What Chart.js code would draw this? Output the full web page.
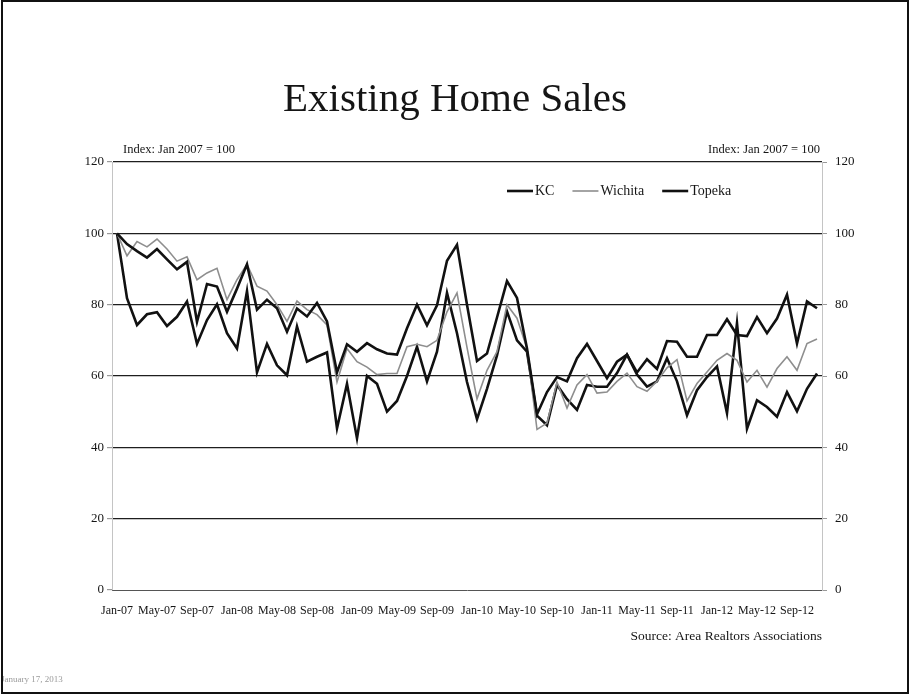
<!DOCTYPE html>
<html>
<head>
<meta charset="utf-8">
<title>Existing Home Sales</title>
<script src="https://cdn.jsdelivr.net/npm/chart.js@4.4.1/dist/chart.umd.min.js"></script>
<style>
    html, body { margin: 0; padding: 0; background: #ffffff; }
    #wrap { position: relative; width: 911px; height: 696px; }
</style>
</head>
<body>
<div id="wrap"><canvas id="chart" width="911" height="696"></canvas></div>
<script>
/* ---- data (index, Jan 2007 = 100) ---- */

var MONTHS = ['Jan', 'Feb', 'Mar', 'Apr', 'May', 'Jun', 'Jul', 'Aug', 'Sep', 'Oct', 'Nov', 'Dec'];
var YEARS  = ['07', '08', '09', '10', '11', '12'];

var KC = [
    100, 97, 95, 93.2, 95.6, 92.7, 89.9, 92, 75.2, 85.8, 85.1, 78,
    84.5, 91.3, 78.6, 81.4, 79, 72.4, 78.9, 76.7, 80.5, 75.3, 61, 68.9,
    66.8, 69.2, 67.5, 66.3, 66, 73.4, 80, 74.2, 79.8, 92.3, 96.8, 80,
    64.2, 66.3, 76.4, 86.6, 81.9, 67.7, 49.3, 55.5, 59.7, 58.5, 65, 69,
    64.2, 59.4, 64, 66, 61, 64.7, 62, 69.8, 69.6, 65.4, 65.4, 71.5,
    71.5, 75.9, 71.5, 71.2, 76.5, 72, 76.1, 82.8, 69.1, 80.9, 79
];

var WICHITA = [
    100, 93.7, 97.7, 96.2, 98.4, 95.6, 92.2, 93.4, 87, 88.9, 90.2, 81.4,
    87, 91.3, 85.2, 83.8, 80, 75.3, 81, 78.6, 77.2, 74.3, 58.3, 67.7,
    64, 62.5, 60.4, 60.7, 60.7, 68.2, 68.9, 68.2, 70, 78, 83.3, 68,
    53.6, 61.6, 66.8, 80, 76.2, 67.7, 45, 46.8, 58.3, 51, 57.5, 60.4,
    55.2, 55.5, 58.5, 60.8, 57, 55.7, 58.5, 62.3, 64.6, 53, 57.9, 61.1,
    64.4, 66.3, 64.4, 58.3, 61.6, 56.9, 62.1, 65.4, 61.6, 69.1, 70.4
];

var TOPEKA = [
    100, 81.8, 74.3, 77.3, 77.9, 74, 76.6, 80.9, 69, 75.7, 80.1, 72,
    67.7, 83.8, 61, 69, 63, 60.2, 73.9, 64, 65.4, 66.6, 45.3, 57.8,
    42.5, 60, 57.8, 50, 53, 60, 68.2, 58.5, 66.8, 83.3, 72, 58.3,
    47.9, 56.4, 65.8, 78.1, 70, 66.8, 48.9, 46.2, 57.5, 53.5, 50.5, 57.5,
    57, 57, 60.8, 66, 60.4, 57, 58.5, 65, 58.5, 49, 56, 59.7,
    62.7, 49.6, 74.8, 45.2, 53.2, 51.3, 48.6, 55.5, 50.1, 56.4, 60.7
];

var SERIES_NAMES = ['KC', 'Wichita', 'Topeka'];
var Y_MIN = 0, Y_MAX = 120, Y_STEP = 20;

var labels = [];
YEARS.forEach(function (y) {
    MONTHS.forEach(function (m) { labels.push(m + '-' + y); });
});
labels = labels.slice(0, KC.length);

/* ---- look ---- */

var SERIF = "'Liberation Serif', 'Times New Roman', serif";
var INK   = '#151515';

Chart.defaults.font.family = SERIF;
Chart.defaults.color = INK;

// legend inside the plot, plus the slide texts and frame
var slideText = {
    id: 'slideText',
    afterDraw: function (chart) {
        var ctx  = chart.ctx;
        var area = chart.chartArea;
        ctx.save();

        ctx.fillStyle = INK;
        ctx.textAlign = 'center';
        ctx.textBaseline = 'alphabetic';
        ctx.font = '41px ' + SERIF;
        ctx.fillText('Existing Home Sales', 455, 111);

        ctx.font = '12.5px ' + SERIF;
        ctx.textBaseline = 'middle';
        ctx.textAlign = 'left';
        ctx.fillText('Index: Jan 2007 = 100', 123, 150);
        ctx.textAlign = 'right';
        ctx.fillText('Index: Jan 2007 = 100', area.right - 2, 150);

        ctx.font = '13.5px ' + SERIF;
        ctx.fillText('Source: Area Realtors Associations', area.right, 636);

        // legend
        var x = 507, y = 191;
        ctx.font = '14px ' + SERIF;
        ctx.textAlign = 'left';
        chart.data.datasets.forEach(function (ds) {
            ctx.strokeStyle = ds.borderColor;
            ctx.lineWidth = ds.borderWidth;
            ctx.beginPath();
            ctx.moveTo(x, y);
            ctx.lineTo(x + 26, y);
            ctx.stroke();
            ctx.fillStyle = INK;
            ctx.fillText(ds.label, x + 28, y);
            x += 28 + ctx.measureText(ds.label).width + 18;
        });

        ctx.fillStyle = '#9a9a9a';
        ctx.font = '9px ' + SERIF;
        ctx.fillText('January 17, 2013', 1, 680);

        ctx.strokeStyle = '#111';
        ctx.lineWidth = 2;
        ctx.strokeRect(2, 1, 906, 692);
        ctx.restore();
    }
};

var line = function (name, data, color, width) {
    return {
        label: name,
        data: data,
        borderColor: color,
        backgroundColor: color,
        borderWidth: width,
        pointRadius: 0,
        tension: 0,
        fill: false
    };
};

new Chart(document.getElementById('chart').getContext('2d'), {
    type: 'line',
    data: {
        labels: labels,
        datasets: [
            line(SERIES_NAMES[0], KC, '#111111', 2.6),
            line(SERIES_NAMES[1], WICHITA, '#8e8e8e', 1.6),
            line(SERIES_NAMES[2], TOPEKA, '#111111', 2.6)
        ]
    },
    options: {
        responsive: false,
        animation: false,
        devicePixelRatio: 1,
        layout: { padding: { top: 162, left: 0, right: 0, bottom: 0 } },
        plugins: {
            legend: { display: false },
            title:  { display: false },
            tooltip: { enabled: false }
        },
        scales: {
            x: {
                type: 'category',
                offset: true,
                grid: { display: false },
                border: { color: '#555555', width: 1 },
                ticks: {
                    autoSkip: false,
                    maxRotation: 0,
                    padding: 6,
                    font: { size: 12 },
                    callback: function (v, i) {
                        return i % 4 === 0 ? this.getLabelForValue(v) : '';
                    }
                },
                afterFit: function (s) { s.height = 106; }
            },
            y: {
                position: 'left',
                min: Y_MIN,
                max: Y_MAX,
                ticks: { stepSize: Y_STEP, padding: 3, font: { size: 13 } },
                grid: {
                    color: function (c) { return c.tick.value === 0 ? 'rgba(0,0,0,0)' : '#1e1e1e'; },
                    tickColor: '#999999',
                    tickLength: 5,
                    lineWidth: 1.2
                },
                border: { color: '#c4c4c4' },
                afterFit: function (s) { s.width = 112; }
            },
            y2: {
                position: 'right',
                min: Y_MIN,
                max: Y_MAX,
                ticks: { stepSize: Y_STEP, padding: 8, font: { size: 13 } },
                grid: { drawOnChartArea: false, tickColor: '#999999', tickLength: 5 },
                border: { color: '#c4c4c4' },
                afterFit: function (s) { s.width = 89; }
            }
        }
    },
    plugins: [slideText]
});
</script>
</body>
</html>
